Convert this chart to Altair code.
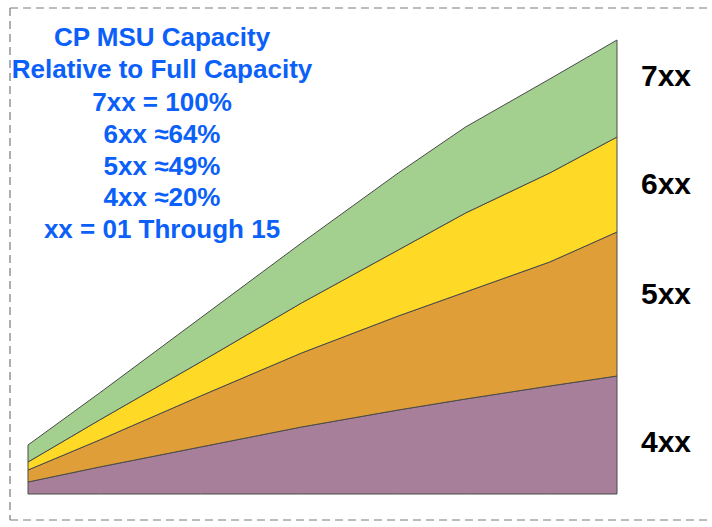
import altair as alt
import pandas as pd

# ---- data ----
x_vals = [1, 2.7, 5.1, 7.5, 9.8, 11.4, 13.4, 15]
s4xx = [12, 27, 47, 67, 84, 95, 108, 118]
s5xx = [12, 27, 51, 74, 94, 107, 124, 144]
s6xx = [8, 20, 34, 50, 66, 79, 89, 95]
s7xx = [17, 27, 44, 60, 77, 86, 94, 97]
series_names = ["4xx", "5xx", "6xx", "7xx"]
series_colors = ["#a77f9a", "#e09e38", "#fed925", "#a3cf8f"]

note_lines = [
    "CP MSU Capacity",
    "Relative to Full Capacity",
    "7xx = 100%",
    "6xx \u224864%",
    "5xx \u224849%",
    "4xx \u224820%",
    "xx = 01 Through 15",
]

rows = []
for name, vals in zip(series_names, [s4xx, s5xx, s6xx, s7xx]):
    for x, v in zip(x_vals, vals):
        rows.append({"x": x, "value": v, "series": name,
                     "order": series_names.index(name)})
df = pd.DataFrame(rows)

W, H = 589, 454
PAD_L, PAD_T = 28, 40

areas = alt.Chart(df).mark_area(
    stroke="#4a4a4a", strokeWidth=1, interpolate="linear", opacity=1
).encode(
    x=alt.X("x:Q", scale=alt.Scale(domain=[1, 15], nice=False), axis=None),
    y=alt.Y("value:Q", stack="zero",
            scale=alt.Scale(domain=[0, 454], nice=False), axis=None),
    color=alt.Color("series:N", scale=alt.Scale(domain=series_names,
                    range=series_colors), legend=None),
    order=alt.Order("order:Q", sort="ascending"),
)

layers = [areas]

# dashed frame: left, top and bottom edges
fc = "#7a7a7a"
dash = [8, 5]
layers.append(alt.Chart(pd.DataFrame({"e": ["top"]})).mark_rule(
    color=fc, strokeDash=dash, strokeWidth=1.2).encode(
    x=alt.value(-18), x2=alt.value(680), y=alt.value(-32)))
layers.append(alt.Chart(pd.DataFrame({"e": ["bottom"]})).mark_rule(
    color=fc, strokeDash=dash, strokeWidth=1.2).encode(
    x=alt.value(-18), x2=alt.value(680), y=alt.value(480)))
layers.append(alt.Chart(pd.DataFrame({"e": ["left"]})).mark_rule(
    color=fc, strokeDash=dash, strokeWidth=1.2).encode(
    x=alt.value(-18), y=alt.value(-32), y2=alt.value(480)))

# blue note text
note_y = [-2, 30, 63, 95, 127, 158, 190]
for line, yy in zip(note_lines, note_y):
    layers.append(
        alt.Chart(pd.DataFrame({"t": [line]})).mark_text(
            font="Liberation Sans", fontWeight="bold", fontSize=26,
            color="#0a60f8", align="center", baseline="middle"
        ).encode(x=alt.value(134), y=alt.value(yy), text="t:N")
    )

# right-side series labels
label_y = {"7xx": 37, "6xx": 145, "5xx": 255, "4xx": 403}
for name in ["7xx", "6xx", "5xx", "4xx"]:
    layers.append(
        alt.Chart(pd.DataFrame({"t": [name]})).mark_text(
            font="Liberation Sans", fontWeight="bold", fontSize=30,
            color="#000000", align="left", baseline="middle"
        ).encode(x=alt.value(613), y=alt.value(label_y[name]), text="t:N")
    )

chart = alt.layer(*layers).properties(
    width=W, height=H,
    autosize=alt.AutoSizeParams(type="none"),
    padding={"left": PAD_L, "top": PAD_T, "right": 712 - PAD_L - W, "bottom": 527 - PAD_T - H},
    background="white",
).configure_view(stroke=None)

chart.save("out.html", embed_options={"renderer": "svg", "actions": False})
